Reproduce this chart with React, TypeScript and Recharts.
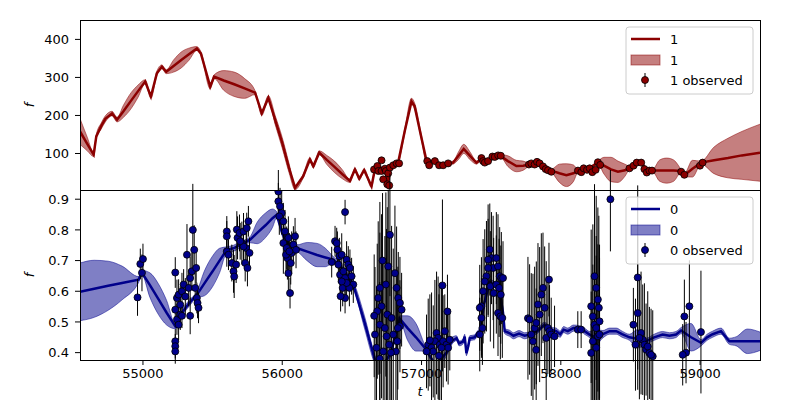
import React from 'react'
import { ComposedChart, Line, Area, Scatter, ErrorBar, XAxis, YAxis } from 'recharts'

const tDomain = [54548, 59430]
const tTicks = [55000, 56000, 57000, 58000, 59000]
const topDomain = [4, 451]
const topTicks = [100, 200, 300, 400]
const botDomain = [0.376, 0.93]
const botTicks = [0.4, 0.5, 0.6, 0.7, 0.8, 0.9]

const RED = '#8b0000'
const BLUE = '#00008b'

// model "1": [t, mean, half width of band]
const model1 = [
  [54548, 158, 34], [54600, 125, 18], [54646, 97, 5], [54665, 145, 5], [54700, 172, 8],
  [54730, 191, 8], [54778, 205, 6], [54814, 189, 6], [54860, 211, 16], [54915, 239, 21],
  [54965, 264, 16], [55016, 289, 5], [55057, 250, 5], [55100, 311, 6], [55136, 328, 5],
  [55167, 315, 5], [55220, 330, 16], [55275, 346, 21], [55330, 361, 16], [55387, 376, 5],
  [55416, 363, 5], [55483, 276, 6], [55511, 302, 5], [55580, 292, 26], [55655, 282, 32],
  [55730, 271, 26], [55805, 260, 5], [55853, 206, 6], [55900, 246, 6], [55950, 187, 12],
  [56000, 128, 14], [56050, 60, 12], [56092, 10, 5], [56150, 40, 5], [56199, 84, 5],
  [56223, 67, 5], [56266, 102, 5], [56320, 83, 12], [56375, 65, 15], [56430, 46, 12],
  [56486, 28, 4], [56522, 58, 4], [56553, 34, 4], [56588, 56, 4], [56641, 14, 4],
  [56665, 58, 4], [56700, 62, 4], [56740, 55, 4], [56760, 20, 4], [56775, 60, 4],
  [56832, 76, 4], [56880, 160, 6], [56928, 237, 8], [56950, 225, 8], [57000, 140, 6],
  [57036, 80, 4], [57096, 78, 4], [57150, 70, 4], [57191, 74, 4], [57227, 76, 4],
  [57265, 94, 10], [57303, 112, 12], [57350, 93, 10], [57394, 76, 4], [57430, 85, 4],
  [57480, 82, 4], [57530, 92, 4], [57569, 93, 4], [57620, 80, 14], [57681, 67, 15],
  [57730, 68, 12], [57776, 71, 3], [57830, 76, 3], [57890, 60, 3], [57932, 55, 4],
  [57990, 48, 24], [58040, 43, 30], [58090, 48, 22], [58123, 54, 4], [58190, 58, 4],
  [58266, 76, 4], [58310, 68, 22], [58360, 58, 32], [58410, 52, 28], [58460, 56, 16],
  [58493, 63, 4], [58545, 74, 4], [58577, 76, 4], [58620, 55, 4], [58660, 55, 4],
  [58710, 55, 28], [58760, 55, 33], [58810, 55, 28], [58864, 54, 4], [58887, 43, 4],
  [58945, 60, 22], [59007, 76, 4], [59100, 82, 35], [59200, 88, 52], [59300, 95, 63],
  [59430, 102, 75],
]

// model "0": [t, mean, half width of band]
const model0 = [
  [54548, 0.598, 0.094], [54650, 0.608, 0.093], [54750, 0.618, 0.08], [54850, 0.627, 0.055],
  [54968, 0.638, 0.01], [54993, 0.66, 0.008], [55050, 0.62, 0.04], [55110, 0.575, 0.05],
  [55170, 0.53, 0.04], [55232, 0.486, 0.008], [55280, 0.53, 0.01], [55330, 0.56, 0.01],
  [55387, 0.589, 0.01], [55440, 0.625, 0.04], [55500, 0.665, 0.05], [55550, 0.7, 0.04],
  [55602, 0.735, 0.01], [55650, 0.74, 0.01], [55700, 0.752, 0.01], [55769, 0.768, 0.01],
  [55820, 0.79, 0.035], [55880, 0.815, 0.04], [55930, 0.838, 0.03], [55960, 0.849, 0.01],
  [56000, 0.79, 0.01], [56050, 0.75, 0.01], [56104, 0.741, 0.01], [56180, 0.729, 0.03],
  [56250, 0.718, 0.038], [56310, 0.71, 0.03], [56366, 0.703, 0.01], [56420, 0.68, 0.01],
  [56470, 0.65, 0.01], [56510, 0.621, 0.01], [56590, 0.5, 0.02], [56665, 0.377, 0.015],
  [56700, 0.34, 0.01], [56780, 0.4, 0.01], [56845, 0.51, 0.01], [56900, 0.48, 0.04],
  [56960, 0.45, 0.045], [57024, 0.415, 0.01], [57100, 0.36, 0.01], [57180, 0.4, 0.01],
  [57215, 0.437, 0.012], [57251, 0.447, 0.008], [57270, 0.43, 0.008], [57298, 0.436, 0.008],
  [57310, 0.452, 0.008], [57322, 0.398, 0.008], [57335, 0.42, 0.008], [57346, 0.447, 0.008],
  [57382, 0.45, 0.008], [57400, 0.462, 0.008], [57418, 0.47, 0.008], [57450, 0.56, 0.008],
  [57490, 0.63, 0.008], [57530, 0.62, 0.008], [57561, 0.6, 0.008], [57585, 0.53, 0.008],
  [57597, 0.47, 0.008], [57633, 0.463, 0.01], [57660, 0.455, 0.01], [57700, 0.462, 0.01],
  [57740, 0.455, 0.01], [57776, 0.459, 0.008], [57830, 0.47, 0.008], [57883, 0.491, 0.008],
  [57930, 0.475, 0.008], [57967, 0.47, 0.01], [57995, 0.46, 0.01], [58020, 0.475, 0.01],
  [58050, 0.47, 0.01], [58090, 0.48, 0.01], [58135, 0.48, 0.008], [58170, 0.47, 0.01],
  [58207, 0.459, 0.01], [58250, 0.45, 0.025], [58302, 0.46, 0.012], [58350, 0.47, 0.01],
  [58398, 0.47, 0.01], [58440, 0.46, 0.01], [58493, 0.45, 0.01], [58550, 0.445, 0.03],
  [58612, 0.437, 0.01], [58670, 0.45, 0.01], [58731, 0.459, 0.01], [58780, 0.455, 0.01],
  [58827, 0.459, 0.01], [58864, 0.472, 0.01], [58935, 0.45, 0.045], [59007, 0.432, 0.01],
  [59050, 0.45, 0.01], [59090, 0.46, 0.01], [59150, 0.47, 0.01], [59210, 0.437, 0.01],
  [59260, 0.437, 0.015], [59340, 0.437, 0.04], [59430, 0.437, 0.03],
]

// observed "1": [t, value, error]
const obs1 = [
  [56659, 58, 5], [56683, 67, 5], [56690, 54, 5], [56713, 82, 7], [56713, 54, 5],
  [56725, 32, 5], [56737, 60, 5], [56744, 54, 5], [56754, 19, 5], [56761, 48, 5],
  [56768, 16, 5], [56773, 63, 5], [56797, 69, 5], [56821, 74, 5], [56839, 74, 5],
  [57041, 80, 5], [57055, 69, 5], [57096, 80, 5], [57126, 69, 5], [57155, 69, 5],
  [57191, 74, 5], [57430, 88, 5], [57442, 80, 5], [57454, 76, 5], [57478, 80, 5],
  [57509, 92, 5], [57526, 91, 5], [57550, 95, 5], [57569, 94, 5], [57771, 71, 5],
  [57788, 74, 5], [57812, 71, 5], [57829, 78, 5], [57848, 74, 5], [57872, 66, 5],
  [57891, 59, 5], [57908, 56, 5], [57932, 52, 5], [58123, 55, 5], [58147, 51, 5],
  [58164, 61, 5], [58188, 57, 5], [58207, 61, 5], [58226, 51, 5], [58250, 57, 5],
  [58266, 77, 5], [58283, 70, 5], [58493, 61, 5], [58522, 68, 5], [58545, 76, 5],
  [58577, 76, 5], [58600, 59, 5], [58617, 50, 5], [58636, 55, 5], [58655, 55, 5],
  [58864, 52, 5], [58887, 44, 5], [58999, 68, 5], [59018, 76, 5],
]

// observed "0": [t, value, error], one list per season
const obs0a = [
  [54961, 0.58, 0.06], [54981, 0.689, 0.05], [54993, 0.66, 0.06], [55000, 0.705, 0.05],
]
const obs0b = [
  [55232, 0.54, 0.05], [55232, 0.437, 0.04], [55232, 0.421, 0.04], [55232, 0.404, 0.04],
  [55232, 0.661, 0.05], [55244, 0.578, 0.06], [55244, 0.508, 0.05], [55256, 0.589, 0.05],
  [55256, 0.491, 0.05], [55268, 0.556, 0.06], [55280, 0.6, 0.06], [55268, 0.524, 0.05],
  [55292, 0.622, 0.05], [55304, 0.583, 0.06], [55316, 0.719, 0.1], [55328, 0.611, 0.06],
  [55280, 0.52, 0.04], [55339, 0.52, 0.06], [55339, 0.643, 0.07], [55351, 0.665, 0.06],
  [55358, 0.8, 0.15], [55368, 0.735, 0.08], [55375, 0.611, 0.06], [55382, 0.676, 0.05],
  [55387, 0.578, 0.05], [55392, 0.562, 0.05], [55399, 0.546, 0.05],
]
const obs0c = [
  [55602, 0.795, 0.05], [55602, 0.779, 0.05], [55602, 0.73, 0.05], [55614, 0.719, 0.05],
  [55638, 0.692, 0.06], [55650, 0.665, 0.07], [55655, 0.648, 0.07], [55669, 0.687, 0.06],
  [55674, 0.801, 0.06], [55679, 0.774, 0.07], [55693, 0.79, 0.06], [55710, 0.757, 0.07],
  [55722, 0.795, 0.06], [55734, 0.692, 0.06], [55741, 0.741, 0.07], [55750, 0.676, 0.06],
  [55757, 0.828, 0.05], [55765, 0.725, 0.05], [55745, 0.806, 0.05], [55722, 0.746, 0.06],
  [55698, 0.763, 0.06],
]
const obs0d = [
  [55972, 0.925, 0.08], [55972, 0.893, 0.06], [55984, 0.877, 0.06], [55996, 0.855, 0.07],
  [55979, 0.844, 0.06], [56008, 0.828, 0.06], [56008, 0.757, 0.1], [56020, 0.795, 0.07],
  [56032, 0.741, 0.07], [56037, 0.708, 0.07], [56044, 0.659, 0.06], [56056, 0.594, 0.05],
  [56068, 0.725, 0.07], [56080, 0.752, 0.06], [56092, 0.779, 0.06], [56099, 0.735, 0.06],
  [56044, 0.774, 0.07], [56061, 0.692, 0.07], [56027, 0.719, 0.07], [56051, 0.73, 0.06],
]
const obs0e = [
  [56451, 0.858, 0.04], [56355, 0.695, 0.05], [56379, 0.763, 0.05], [56391, 0.757, 0.05],
  [56396, 0.735, 0.06], [56410, 0.714, 0.06], [56427, 0.719, 0.07], [56403, 0.687, 0.06],
  [56415, 0.654, 0.07], [56439, 0.665, 0.06], [56451, 0.643, 0.07], [56462, 0.703, 0.06],
  [56474, 0.687, 0.06], [56486, 0.676, 0.06], [56498, 0.649, 0.06], [56510, 0.622, 0.06],
  [56434, 0.611, 0.06], [56451, 0.578, 0.05], [56419, 0.584, 0.05], [56482, 0.611, 0.06],
  [56462, 0.627, 0.06], [56427, 0.632, 0.06],
]
const obs0f = [
  [56773, 0.784, 0.2], [56761, 0.681, 0.25], [56744, 0.622, 0.3], [56701, 0.611, 0.28],
  [56689, 0.578, 0.25], [56713, 0.551, 0.3], [56666, 0.459, 0.22], [56677, 0.416, 0.2],
  [56701, 0.491, 0.3], [56737, 0.48, 0.3], [56754, 0.524, 0.35], [56785, 0.513, 0.3],
  [56809, 0.659, 0.22], [56821, 0.611, 0.2], [56833, 0.578, 0.15], [56845, 0.562, 0.15],
  [56857, 0.54, 0.12], [56797, 0.459, 0.28], [56826, 0.437, 0.22], [56768, 0.426, 0.35],
  [56725, 0.404, 0.3], [56816, 0.404, 0.22], [56845, 0.486, 0.15], [56682, 0.535, 0.22],
  [56749, 0.453, 0.35], [56660, 0.52, 0.2], [56720, 0.7, 0.22], [56780, 0.4, 0.28],
  [56700, 0.38, 0.25], [56830, 0.48, 0.2],
]
const obs0g = [
  [57150, 0.619, 0.28], [57108, 0.464, 0.2], [57119, 0.448, 0.2], [57096, 0.437, 0.2],
  [57131, 0.426, 0.2], [57155, 0.437, 0.15], [57179, 0.426, 0.12], [57048, 0.426, 0.15],
  [57072, 0.416, 0.18], [57084, 0.404, 0.15], [57036, 0.404, 0.12], [57191, 0.416, 0.12],
  [57203, 0.442, 0.1], [57167, 0.47, 0.12], [57143, 0.416, 0.2], [57186, 0.534, 0.12],
  [57060, 0.44, 0.15], [57125, 0.39, 0.2],
]
const obs0h = [
  [57490, 0.736, 0.15], [57502, 0.708, 0.15], [57478, 0.703, 0.18], [57514, 0.676, 0.17],
  [57537, 0.708, 0.15], [57549, 0.681, 0.17], [57561, 0.649, 0.16], [57573, 0.643, 0.15],
  [57585, 0.643, 0.12], [57466, 0.649, 0.18], [57454, 0.632, 0.17], [57442, 0.6, 0.17],
  [57430, 0.551, 0.16], [57418, 0.546, 0.14], [57430, 0.513, 0.13], [57418, 0.459, 0.12],
  [57437, 0.48, 0.12], [57494, 0.616, 0.18], [57518, 0.594, 0.18], [57537, 0.622, 0.16],
  [57557, 0.611, 0.16], [57569, 0.589, 0.16], [57549, 0.529, 0.14], [57566, 0.518, 0.14],
  [57580, 0.513, 0.13], [57478, 0.676, 0.16],
]
const obs0i = [
  [57764, 0.512, 0.2], [57776, 0.508, 0.18], [57788, 0.459, 0.2], [57800, 0.437, 0.22],
  [57812, 0.48, 0.2], [57824, 0.497, 0.2], [57823, 0.409, 0.2], [57836, 0.557, 0.2],
  [57848, 0.524, 0.22], [57860, 0.589, 0.2], [57872, 0.611, 0.18], [57884, 0.546, 0.2],
  [57895, 0.448, 0.25], [57907, 0.48, 0.15], [57915, 0.638, 0.12], [57919, 0.47, 0.15],
  [57931, 0.459, 0.12], [57955, 0.453, 0.1], [58122, 0.475, 0.06], [58146, 0.475, 0.06],
]
const obs0k = [
  [58242, 0.649, 0.3], [58254, 0.611, 0.3], [58266, 0.573, 0.3], [58273, 0.546, 0.3],
  [58218, 0.551, 0.25], [58230, 0.518, 0.3], [58242, 0.491, 0.3], [58254, 0.48, 0.3],
  [58278, 0.502, 0.25], [58266, 0.453, 0.3], [58230, 0.437, 0.25], [58218, 0.399, 0.2],
  [58254, 0.416, 0.3], [58278, 0.459, 0.25], [58356, 0.9, 0.17],
]
const obs0l = [
  [58552, 0.645, 0.3], [58552, 0.529, 0.25], [58521, 0.491, 0.12], [58576, 0.464, 0.2],
  [58588, 0.442, 0.18], [58600, 0.426, 0.2], [58612, 0.41, 0.15], [58636, 0.399, 0.15],
  [58660, 0.388, 0.15], [58564, 0.448, 0.2], [58624, 0.42, 0.18], [58648, 0.393, 0.15],
  [58536, 0.426, 0.15],
]
const obs0m = [
  [58887, 0.518, 0.12], [58923, 0.551, 0.15], [58899, 0.4, 0.1], [59006, 0.467, 0.2],
  [58875, 0.393, 0.1],
]

const toModel = (rows: number[][]) =>
  rows.map(([t, m, h]) => ({ t, mean: m, band: [m - h, m + h] }))
const toObs = (rows: number[][]) => rows.map(([t, v, e]) => ({ t, v, e }))

const data1 = toModel(model1)
const data0 = toModel(model0)
const points1 = toObs(obs1)
const points0 = toObs([
  ...obs0a, ...obs0b, ...obs0c, ...obs0d, ...obs0e, ...obs0f,
  ...obs0g, ...obs0h, ...obs0i, ...obs0k, ...obs0l, ...obs0m,
])

const FONT = 'DejaVu Sans, sans-serif'
const tickStyle = { fill: '#000', fontSize: 13, fontFamily: FONT }

const dot = (color: string) => (p: any) =>
  p.cx == null ? <g /> : (
    <circle cx={p.cx} cy={p.cy} r={3.5} fill={color} stroke="#000" strokeWidth={0.8} />
  )

function Legend({ y, color, name }: { y: number; color: string; name: string }) {
  return (
    <g fontFamily={FONT} fontSize={13} fill="#000">
      <rect x={626} y={y} width={127} height={67} rx={3} fill="#fff" fillOpacity={0.8} stroke="#ccc" />
      <line x1={631} x2={660} y1={y + 12} y2={y + 12} stroke={color} strokeWidth={2.5} />
      <text x={670} y={y + 17}>{name}</text>
      <rect x={631} y={y + 28} width={29} height={10} fill={color} fillOpacity={0.5} stroke={color} strokeOpacity={0.5} />
      <text x={670} y={y + 38}>{name}</text>
      <line x1={645} x2={645} y1={y + 46} y2={y + 60} stroke="#000" strokeWidth={1} />
      <circle cx={645} cy={y + 53} r={3.5} fill={color} stroke="#000" strokeWidth={0.8} />
      <text x={670} y={y + 58}>{name} observed</text>
    </g>
  )
}

export default function App() {
  return (
    <div style={{ position: 'absolute', left: 0, top: 0, width: 800, height: 400, background: '#fff' }}>
      <div style={{ position: 'absolute', left: 0, top: 0 }}>
        <ComposedChart width={800} height={200} data={data1} margin={{ top: 20, right: 40, bottom: 0, left: 0 }}>
          <XAxis dataKey="t" type="number" domain={tDomain} ticks={tTicks} allowDataOverflow
            height={10} axisLine={false} tick={false} tickSize={5} tickLine={{ stroke: '#000' }} />
          <YAxis type="number" domain={topDomain} ticks={topTicks} allowDataOverflow width={80}
            axisLine={false} tickSize={5} tickMargin={6} tick={tickStyle} tickLine={{ stroke: '#000' }} />
          <Area dataKey="band" type="monotone" fill={RED} fillOpacity={0.5} stroke={RED}
            strokeOpacity={0.5} strokeWidth={1} isAnimationActive={false} />
          <Line dataKey="mean" type="linear" stroke={RED} strokeWidth={2.5} dot={false} isAnimationActive={false} />
          <Scatter data={points1} dataKey="v" shape={dot(RED)} isAnimationActive={false}>
            <ErrorBar dataKey="e" direction="y" width={0} stroke="#000" strokeWidth={1} />
          </Scatter>
        </ComposedChart>
      </div>
      <div style={{ position: 'absolute', left: 0, top: 170 }}>
        <ComposedChart width={800} height={230} data={data0} margin={{ top: 20, right: 40, bottom: 0, left: 0 }}>
          <XAxis dataKey="t" type="number" domain={tDomain} ticks={tTicks} allowDataOverflow
            height={40} axisLine={false} tickSize={5} tickMargin={4} tick={tickStyle} tickLine={{ stroke: '#000' }} />
          <YAxis type="number" domain={botDomain} ticks={botTicks} allowDataOverflow width={80}
            axisLine={false} tickSize={5} tickMargin={6} tick={tickStyle} tickLine={{ stroke: '#000' }}
            tickFormatter={(v: number) => v.toFixed(1)} />
          <Area dataKey="band" type="monotone" fill={BLUE} fillOpacity={0.5} stroke={BLUE}
            strokeOpacity={0.5} strokeWidth={1} isAnimationActive={false} />
          <Line dataKey="mean" type="linear" stroke={BLUE} strokeWidth={2.5} dot={false} isAnimationActive={false} />
          <Scatter data={points0} dataKey="v" shape={dot(BLUE)} isAnimationActive={false}>
            <ErrorBar dataKey="e" direction="y" width={0} stroke="#000" strokeWidth={1} />
          </Scatter>
        </ComposedChart>
      </div>
      <svg width={800} height={400} style={{ position: 'absolute', left: 0, top: 0, pointerEvents: 'none' }}>
        <rect x={80.5} y={20.5} width={680} height={340} fill="none" stroke="#000" strokeWidth={1} />
        <line x1={80.5} x2={760.5} y1={190.5} y2={190.5} stroke="#000" strokeWidth={1} />
        <Legend y={27} color={RED} name="1" />
        <Legend y={197} color={BLUE} name="0" />
        <text x={34} y={105} fontFamily={FONT} fontStyle="italic" fontSize={13} textAnchor="middle"
          transform="rotate(-90 34 105)">f</text>
        <text x={34} y={275} fontFamily={FONT} fontStyle="italic" fontSize={13} textAnchor="middle"
          transform="rotate(-90 34 275)">f</text>
        <text x={420} y={396} fontFamily={FONT} fontStyle="italic" fontSize={13} textAnchor="middle">t</text>
      </svg>
    </div>
  )
}
